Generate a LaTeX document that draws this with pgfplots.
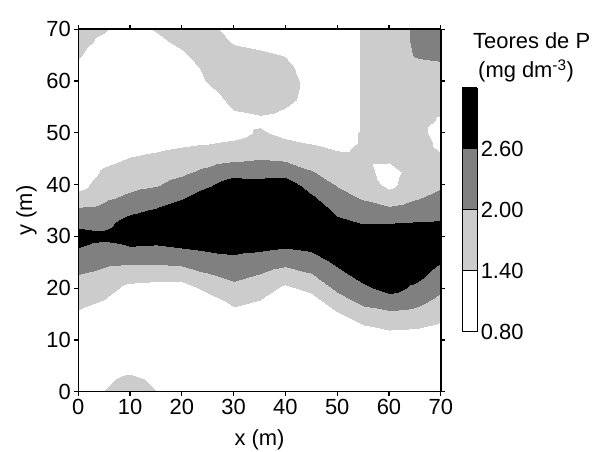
\documentclass[border=0pt]{standalone}
\usepackage{fontspec}
\setmainfont{Liberation Sans}
\usepackage{pgfplots}
\pgfplotsset{compat=1.18}
\usetikzlibrary{calc}

\begin{document}
\begin{tikzpicture}
\begin{axis}[
  name=ax, at={(0,0)}, anchor=south west,
  scale only axis, width=362.5bp, height=362.5bp,
  view={0}{90},
  xmin=0, xmax=70, ymin=0, ymax=70,
  xtick={0,10,...,70}, ytick={0,10,...,70},
  tick align=outside, major tick length=4bp,
  axis line style={line width=1.5bp},
  tick style={line width=1.2bp, black},
  axis on top,
  font=\fontsize{22}{26}\selectfont,
  /pgf/number format/assume math mode=true,
  xlabel={x (m)}, ylabel={y (m)},
  every axis x label/.style={at={(axis description cs:0.5,-0.132)}, anchor=center},
  every axis y label/.style={at={(axis description cs:-0.143,0.5)}, anchor=center, rotate=90},
  colormap={teores}{rgb255=(255,255,255) rgb255=(204,204,204) rgb255=(128,128,128) rgb255=(0,0,0)},
  colormap access=piecewise constant,
  point meta min=0.8, point meta max=3.2,
  colorbar,
  colorbar style={
    at={($(parent axis.south east)+(13bp,60bp)$)}, anchor=south west,
    width=15bp, height=244bp,
    font=\fontsize{22}{26}\selectfont,
    /pgf/number format/assume math mode=true,
    ytick={0.8,1.4,2.0,2.6},
    yticklabel style={/pgf/number format/fixed, /pgf/number format/fixed zerofill, /pgf/number format/precision=2},
    major tick length=0pt,
    axis line style={line width=1.2bp},
    ymajorgrids, grid style={black, line width=0.8bp},
  },
]
\addplot3[surf, shader=interp, mesh/cols=15] coordinates {
(0,0,1.0) (5,0,1.41) (10,0,1.65) (15,0,1.41) (20,0,1.0) (25,0,1.0) (30,0,1.0) (35,0,1.0) (40,0,1.0) (45,0,1.0) (50,0,1.0) (55,0,1.0) (60,0,1.0) (65,0,1.0) (70,0,1.0)
(0,2.5,1.0) (5,2.5,1.3) (10,2.5,1.52) (15,2.5,1.3) (20,2.5,1.0) (25,2.5,1.0) (30,2.5,1.0) (35,2.5,1.0) (40,2.5,1.0) (45,2.5,1.0) (50,2.5,1.0) (55,2.5,1.0) (60,2.5,1.0) (65,2.5,1.0) (70,2.5,1.0)
(0,5,1.0) (5,5,1.1) (10,5,1.2) (15,5,1.1) (20,5,1.0) (25,5,1.0) (30,5,1.0) (35,5,1.0) (40,5,1.0) (45,5,1.0) (50,5,1.0) (55,5,1.0) (60,5,1.0) (65,5,1.0) (70,5,1.0)
(0,7.5,1.0) (5,7.5,1.0) (10,7.5,1.0) (15,7.5,1.0) (20,7.5,1.0) (25,7.5,1.0) (30,7.5,1.0) (35,7.5,1.0) (40,7.5,1.0) (45,7.5,1.0) (50,7.5,1.0) (55,7.5,1.0) (60,7.5,1.0) (65,7.5,1.0) (70,7.5,1.0)
(0,10,1.0) (5,10,1.0) (10,10,1.0) (15,10,1.0) (20,10,1.0) (25,10,1.0) (30,10,1.0) (35,10,1.0) (40,10,1.0) (45,10,1.0) (50,10,1.0) (55,10,1.0) (60,10,1.11) (65,10,1.06) (70,10,1.02)
(0,12.5,1.10) (5,12.5,1.0) (10,12.5,1.0) (15,12.5,1.0) (20,12.5,1.0) (25,12.5,1.0) (30,12.5,1.0) (35,12.5,1.0) (40,12.5,1.0) (45,12.5,1.0) (50,12.5,1.0) (55,12.5,1.33) (60,12.5,1.49) (65,12.5,1.45) (70,12.5,1.29)
(0,15,1.33) (5,15,1.15) (10,15,1.0) (15,15,1.0) (20,15,1.0) (25,15,1.0) (30,15,1.23) (35,15,1.08) (40,15,1.0) (45,15,1.0) (50,15,1.33) (55,15,1.76) (60,15,1.88) (65,15,1.83) (70,15,1.56)
(0,17.5,1.55) (5,17.5,1.38) (10,17.5,1.0) (15,17.5,1.0) (20,17.5,1.0) (25,17.5,1.16) (30,17.5,1.54) (35,17.5,1.38) (40,17.5,1.0) (45,17.5,1.16) (50,17.5,1.75) (55,17.5,2.15) (60,17.5,2.33) (65,17.5,2.18) (70,17.5,1.84)
(0,20,1.78) (5,20,1.62) (10,20,1.25) (15,20,1.18) (20,20,1.15) (25,20,1.56) (30,20,1.85) (35,20,1.67) (40,20,1.30) (45,20,1.56) (50,20,2.12) (55,20,2.48) (60,20,2.81) (65,20,2.49) (70,20,2.10)
(0,22.5,1.99) (5,22.5,1.85) (10,22.5,1.67) (15,22.5,1.64) (20,22.5,1.67) (25,22.5,1.95) (30,22.5,2.15) (35,22.5,1.97) (40,22.5,1.73) (45,22.5,1.95) (50,22.5,2.41) (55,22.5,2.81) (60,22.5,3.0) (65,22.5,2.8) (70,22.5,2.36)
(0,25,2.29) (5,25,2.11) (10,25,2.09) (15,25,2.08) (20,25,2.15) (25,25,2.31) (30,25,2.44) (35,25,2.31) (40,25,2.15) (45,25,2.31) (50,25,2.71) (55,25,3.0) (60,25,3.0) (65,25,3.0) (70,25,2.62)
(0,27.5,2.58) (5,27.5,2.42) (10,27.5,2.51) (15,27.5,2.47) (20,27.5,2.57) (25,27.5,2.67) (30,27.5,2.73) (35,27.5,2.67) (40,27.5,2.57) (45,27.5,2.67) (50,27.5,3.0) (55,27.5,3.0) (60,27.5,3.0) (65,27.5,3.0) (70,27.5,2.88)
(0,30,2.81) (5,30,2.72) (10,30,2.94) (15,30,2.87) (20,30,2.98) (25,30,3.0) (30,30,3.0) (35,30,3.0) (40,30,2.98) (45,30,3.0) (50,30,2.99) (55,30,2.93) (60,30,3.0) (65,30,3.0) (70,30,2.9)
(0,32.5,2.46) (5,32.5,2.45) (10,32.5,2.83) (15,32.5,3.0) (20,32.5,3.0) (25,32.5,3.0) (30,32.5,3.0) (35,32.5,3.0) (40,32.5,3.0) (45,32.5,3.0) (50,32.5,2.73) (55,32.5,2.58) (60,32.5,2.59) (65,32.5,2.64) (70,32.5,2.66)
(0,35,2.10) (5,35,2.16) (10,35,2.47) (15,35,2.66) (20,35,2.93) (25,35,3.0) (30,35,3.0) (35,35,3.0) (40,35,3.0) (45,35,3.0) (50,35,2.48) (55,35,2.27) (60,35,2.13) (65,35,2.29) (70,35,2.42)
(0,37.5,1.66) (5,37.5,1.91) (10,37.5,2.11) (15,37.5,2.30) (20,37.5,2.57) (25,37.5,2.93) (30,37.5,3.0) (35,37.5,3.0) (40,37.5,3.0) (45,37.5,2.71) (50,37.5,2.22) (55,37.5,1.95) (60,37.5,1.69) (65,37.5,1.95) (70,37.5,2.17)
(0,40,1.19) (5,40,1.69) (10,40,1.86) (15,40,1.96) (20,40,2.21) (25,40,2.54) (30,40,2.91) (35,40,2.80) (40,40,2.91) (45,40,2.37) (50,40,1.97) (55,40,1.7) (60,40,1.27) (65,40,1.7) (70,40,1.93)
(0,42.5,1.0) (5,42.5,1.48) (10,42.5,1.65) (15,42.5,1.74) (20,42.5,1.90) (25,42.5,2.14) (30,42.5,2.39) (35,42.5,2.39) (40,42.5,2.39) (45,42.5,2.04) (50,42.5,1.76) (55,42.5,1.55) (60,42.5,1.22) (65,42.5,1.6) (70,42.5,1.75)
(0,45,1.0) (5,45,1.26) (10,45,1.43) (15,45,1.52) (20,45,1.64) (25,45,1.79) (30,45,1.91) (35,45,1.99) (40,45,1.92) (45,45,1.74) (50,45,1.54) (55,45,1.5) (60,45,1.48) (65,45,1.6) (70,45,1.5)
(0,47.5,1.0) (5,47.5,1.05) (10,47.5,1.22) (15,47.5,1.29) (20,47.5,1.38) (25,47.5,1.45) (30,47.5,1.56) (35,47.5,1.74) (40,47.5,1.59) (45,47.5,1.45) (50,47.5,1.32) (55,47.5,1.45) (60,47.5,1.6) (65,47.5,1.6) (70,47.5,1.3)
(0,50,1.0) (5,50,1.0) (10,50,1.01) (15,50,1.07) (20,50,1.12) (25,50,1.12) (30,50,1.2) (35,50,1.48) (40,50,1.25) (45,50,1.15) (50,50,1.2) (55,50,1.45) (60,50,1.6) (65,50,1.6) (70,50,1.2)
(0,52.5,1.0) (5,52.5,1.0) (10,52.5,1.0) (15,52.5,1.0) (20,52.5,1.0) (25,52.5,1.0) (30,52.5,1.2) (35,52.5,1.29) (40,52.5,1.2) (45,52.5,1.1) (50,52.5,1.1) (55,52.5,1.45) (60,52.5,1.6) (65,52.5,1.6) (70,52.5,1.35)
(0,55,1.0) (5,55,1.0) (10,55,1.0) (15,55,1.0) (20,55,1.0) (25,55,1.0) (30,55,1.47) (35,55,1.6) (40,55,1.42) (45,55,1.15) (50,55,1.1) (55,55,1.45) (60,55,1.6) (65,55,1.6) (70,55,1.5)
(0,57.5,1.05) (5,57.5,1.0) (10,57.5,1.0) (15,57.5,1.0) (20,57.5,1.0) (25,57.5,1.2) (30,57.5,1.65) (35,57.5,1.75) (40,57.5,1.6) (45,57.5,1.2) (50,57.5,1.1) (55,57.5,1.45) (60,57.5,1.6) (65,57.5,1.65) (70,57.5,1.6)
(0,60,1.15) (5,60,1.0) (10,60,1.0) (15,60,1.0) (20,60,1.0) (25,60,1.45) (30,60,1.75) (35,60,1.8) (40,60,1.65) (45,60,1.2) (50,60,1.1) (55,60,1.45) (60,60,1.6) (65,60,1.7) (70,60,1.7)
(0,62.5,1.3) (5,62.5,1.0) (10,62.5,1.0) (15,62.5,1.0) (20,62.5,1.1) (25,62.5,1.55) (30,62.5,1.75) (35,62.5,1.7) (40,62.5,1.55) (45,62.5,1.15) (50,62.5,1.1) (55,62.5,1.45) (60,62.5,1.6) (65,62.5,1.8) (70,62.5,1.9)
(0,65,1.45) (5,65,1.15) (10,65,1.0) (15,65,1.1) (20,65,1.3) (25,65,1.75) (30,65,1.6) (35,65,1.5) (40,65,1.38) (45,65,1.1) (50,65,1.1) (55,65,1.45) (60,65,1.6) (65,65,2.05) (70,65,2.1)
(0,67.5,1.55) (5,67.5,1.3) (10,67.5,1.0) (15,67.5,1.25) (20,67.5,1.55) (25,67.5,1.7) (30,67.5,1.35) (35,67.5,1.25) (40,67.5,1.15) (45,67.5,1.1) (50,67.5,1.1) (55,67.5,1.45) (60,67.5,1.6) (65,67.5,2.1) (70,67.5,2.2)
(0,70,1.6) (5,70,1.45) (10,70,1.2) (15,70,1.45) (20,70,1.7) (25,70,1.55) (30,70,1.2) (35,70,1.15) (40,70,1.1) (45,70,1.1) (50,70,1.1) (55,70,1.45) (60,70,1.6) (65,70,2.1) (70,70,2.2)
};
\end{axis}
\node[anchor=west, inner sep=0pt, font=\fontsize{22}{26}\selectfont] at ([xshift=394.7bp,yshift=350.7bp]ax.south west) {Teores de P};
\node[anchor=west, inner sep=0pt, font=\fontsize{22}{26}\selectfont] at ([xshift=399.7bp,yshift=320.7bp]ax.south west) {(mg dm\textsuperscript{-3})};
\pgfresetboundingbox
\path[use as bounding box] (-78.3bp,-60.3bp) rectangle (532.7bp,391.7bp);
\end{tikzpicture}
\end{document}
